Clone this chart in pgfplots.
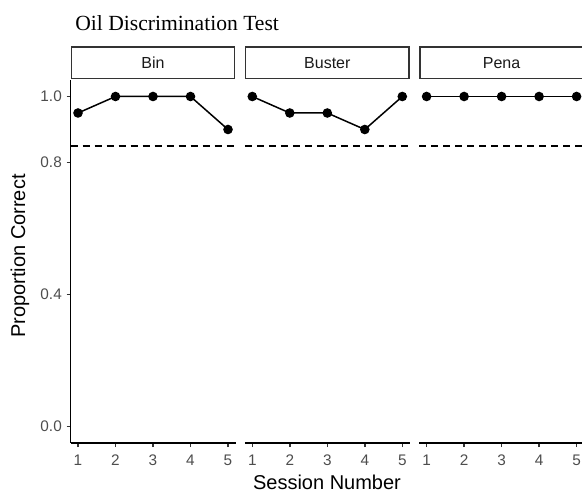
\documentclass[border=0pt]{standalone}
\usepackage{fontspec}
\setmainfont{Liberation Sans}
\newfontfamily\titlefont{Liberation Serif}
\usepackage{pgfplots}
\pgfplotsset{compat=1.18}
\definecolor{grey20}{HTML}{333333}
\definecolor{grey30}{HTML}{4D4D4D}
\definecolor{grey10}{HTML}{1A1A1A}
\pgfplotsset{
  facet/.style={
    scale only axis, width=123.75pt, height=272.25pt,
    anchor=south west,
    xmin=0.8, xmax=5.2, ymin=-0.05, ymax=1.05,
    axis x line*=bottom,
    xtick={1,2,3,4,5},
    tick align=outside,
    major tick length=3pt,
    tick style={grey20, line width=1.1pt},
    axis line style={black, line width=1.3pt},
    ticklabel style={font=\fontsize{11.5}{13}\selectfont, text=grey30},
    xticklabel style={yshift=-2.5pt},
    /pgf/number format/assume math mode=true,
  },
  ser/.style={black, line width=1.125pt, mark=*, mark size=3pt, mark options={solid, fill=black}},
  ref/.style={black, line width=1.125pt, dash pattern=on 5.25pt off 3.75pt},
}
\begin{document}
\begin{tikzpicture}
\path[use as bounding box] (0pt,0pt) rectangle (436.5pt,372pt);
\clip (0pt,0pt) rectangle (436.5pt,372pt);
% Panel 1: Bin
\begin{axis}[facet, at={(52.875pt,39.75pt)}, axis y line*=left,
  ytick={0,0.4,0.8,1}, yticklabels={0.0,0.4,0.8,1.0}]
\addplot[ref] coordinates {(0.8,0.85) (5.2,0.85)};
\addplot[ser] coordinates {(1,0.95) (2,1) (3,1) (4,1) (5,0.9)};
\end{axis}
% Panel 2: Buster
\begin{axis}[facet, at={(183.6pt,39.75pt)}, axis y line=none, ytick=\empty]
\addplot[ref] coordinates {(0.8,0.85) (5.2,0.85)};
\addplot[ser] coordinates {(1,1) (2,0.95) (3,0.95) (4,0.9) (5,1)};
\end{axis}
% Panel 3: Pena
\begin{axis}[facet, at={(314.325pt,39.75pt)}, axis y line=none, ytick=\empty]
\addplot[ref] coordinates {(0.8,0.85) (5.2,0.85)};
\addplot[ser] coordinates {(1,1) (2,1) (3,1) (4,1) (5,1)};
\end{axis}
\begin{scope}[x=0.75pt,y=0.75pt]
% strips
\foreach \xa/\lab in {70.5/Bin, 244.8/Buster, 419.1/Pena}{
  \draw[grey20, line width=1.1pt, fill=white] (\xa+0.75,417.5) rectangle (\xa+164.25,449);
  \node[text=grey10, font=\fontsize{12}{14}\selectfont] at (\xa+82.5,433.2) {\lab};
}
% title and axis titles
\node[anchor=base west, inner sep=0pt, font=\titlefont\fontsize{16.2}{19}\selectfont] at (75,465) {Oil Discrimination Test};
\node[anchor=base, inner sep=0pt, font=\fontsize{15}{18}\selectfont] at (327,6) {Session Number};
\node[rotate=90, anchor=center, inner sep=0pt, font=\fontsize{15}{18}\selectfont] at (20,240) {Proportion Correct};
\end{scope}
\end{tikzpicture}
\end{document}
